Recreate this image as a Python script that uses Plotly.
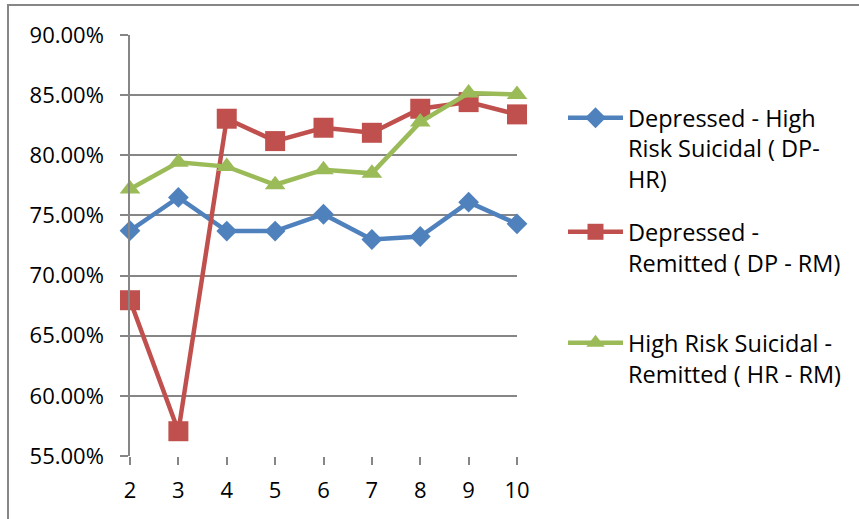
import plotly.graph_objects as go

x_vals = [2, 3, 4, 5, 6, 7, 8, 9, 10]
dp_hr = [0.7373, 0.7650, 0.7370, 0.7370, 0.7510, 0.7300, 0.7325, 0.7610, 0.7430]
dp_rm = [0.6795, 0.5706, 0.8304, 0.8118, 0.8229, 0.8187, 0.8387, 0.8442, 0.8340]
hr_rm = [0.7720, 0.7942, 0.7906, 0.7755, 0.7880, 0.7850, 0.8276, 0.8517, 0.8506]

names = [
    "Depressed - High<br>Risk Suicidal ( DP-<br>HR)",
    "Depressed -<br>Remitted ( DP - RM)",
    "High Risk Suicidal -<br>Remitted ( HR - RM)",
]
colors = ["#4F81BD", "#C0504D", "#9BBB59"]
symbols = ["diamond", "square", "triangle-up"]
sizes = [16, 20, 18]
series = [dp_hr, dp_rm, hr_rm]
legends = ["legend", "legend2", "legend3"]

FONT = "Open Sans"
GRID = "#868686"

fig = go.Figure()
for s, n, c, sym, sz, lg in zip(series, names, colors, symbols, sizes, legends):
    fig.add_trace(go.Scatter(
        x=x_vals, y=s, name=n, mode="lines+markers",
        line=dict(color=c, width=4.5),
        marker=dict(symbol=sym, size=sz, color=c, line=dict(width=0)),
        cliponaxis=False, legend=lg,
    ))

# plot area in pixels: left 130, right 517, top 35, bottom 456
W, H = 859, 519
L, R, T, B = 130, 342, 35, 63
pw, ph = W - L - R, H - T - B

def px_x(p):
    return (p - L) / pw

def px_y(p):
    return (H - B - p) / ph

leg_common = dict(font=dict(family=FONT, size=23.5, color="#000000"),
                  valign="top", bgcolor="rgba(0,0,0,0)", xanchor="left",
                  yanchor="top", itemwidth=55)

fig.update_layout(
    width=W, height=H,
    margin=dict(l=L, r=R, t=T, b=B),
    paper_bgcolor="white", plot_bgcolor="white",
    font=dict(family=FONT, size=22, color="#000000"),
    showlegend=True,
    legend=dict(x=px_x(563), y=px_y(96), **leg_common),
    legend2=dict(x=px_x(563), y=px_y(210), **leg_common),
    legend3=dict(x=px_x(563), y=px_y(321), **leg_common),
    xaxis=dict(
        range=[2, 10], tickmode="array", tickvals=x_vals,
        ticktext=[str(v) for v in x_vals],
        showgrid=False, zeroline=False,
        showline=False, ticks="outside", ticklen=8, tickwidth=1.5,
        tickcolor=GRID, ticklabelstandoff=7,
        tickfont=dict(family=FONT, size=22),
    ),
    yaxis=dict(
        range=[0.55, 0.90], dtick=0.05, tick0=0.55, tickformat=".2%",
        showgrid=True, gridcolor=GRID, gridwidth=1.5, zeroline=False,
        showline=True, linecolor=GRID, linewidth=1.5,
        ticks="outside", ticklen=8, tickwidth=1.5, tickcolor=GRID,
        ticklabelstandoff=12,
        tickfont=dict(family=FONT, size=22),
    ),
)

# chart-area border (top and left edges visible in the frame), drawn as page CSS
post = (
    "document.documentElement.style.overflow='hidden';"
    "document.body.style.margin='0';document.body.style.overflow='hidden';"
    "var b=document.createElement('div');"
    "b.style.cssText='position:absolute;left:7px;top:4px;width:1000px;height:1000px;"
    "border-top:2px solid #868686;border-left:2px solid #868686;"
    "pointer-events:none;z-index:10;';"
    "document.body.appendChild(b);"
)

fig.write_html(
    "out.html",
    config={"displayModeBar": False},
    post_script=post,
)
